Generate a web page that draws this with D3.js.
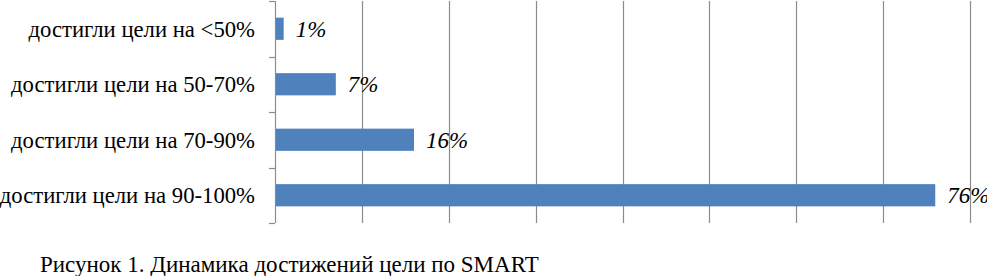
<!DOCTYPE html>
<html>
<head>
<meta charset="utf-8">
<script src="https://cdn.jsdelivr.net/npm/d3@7"></script>
<style>
  body { margin: 0; background: #fff; }
  svg { display: block; font-family: "Liberation Serif", "Times New Roman", serif; }
</style>
</head>
<body>
<svg id="chart" width="987" height="276"></svg>
<script>
var categories = [
  "достигли цели на <50%",
  "достигли цели на 50-70%",
  "достигли цели на 70-90%",
  "достигли цели на 90-100%"
];
var values = [1, 7, 16, 76];
var gridTicks = [0, 10, 20, 30, 40, 50, 60, 70, 80];
var caption = "Рисунок 1. Динамика достижений цели по SMART";

var svg = d3.select("#chart");
var plotLeft = 275, plotRight = 970, plotTop = 1, plotBottom = 223;

var x = d3.scaleLinear().domain([0, 80]).range([plotLeft, plotRight]);
var y = d3
  .scaleBand()
  .domain(categories)
  .range([plotTop, plotBottom])
  .paddingInner(0.6)
  .paddingOuter(0.3);

// vertical gridlines
svg
  .append("g")
  .attr("class", "grid")
  .selectAll("line")
  .data(gridTicks.slice(1))
  .enter()
  .append("line")
  .attr("x1", function(d) { return Math.round(x(d)) + 0.5; })
  .attr("x2", function(d) { return Math.round(x(d)) + 0.5; })
  .attr("y1", plotTop)
  .attr("y2", plotBottom)
  .attr("stroke", "#8c8c8c")
  .attr("stroke-width", 1.2);

// category axis with ticks between bands
var step = y.step();
var bounds = d3.range(categories.length + 1).map(function(i) {
  return plotTop + i * step;
});
var axis = svg.append("g").attr("class", "axis");
axis
  .append("line")
  .attr("x1", plotLeft + 0.5)
  .attr("x2", plotLeft + 0.5)
  .attr("y1", plotTop)
  .attr("y2", plotBottom)
  .attr("stroke", "#8c8c8c")
  .attr("stroke-width", 1.2);
axis
  .selectAll("line.tick")
  .data(bounds)
  .enter()
  .append("line")
  .attr("class", "tick")
  .attr("x1", plotLeft - 6)
  .attr("x2", plotLeft)
  .attr("y1", function(d) { return Math.round(d) + 0.5; })
  .attr("y2", function(d) { return Math.round(d) + 0.5; })
  .attr("stroke", "#8c8c8c")
  .attr("stroke-width", 1.2);

axis
  .selectAll("text")
  .data(categories)
  .enter()
  .append("text")
  .attr("x", plotLeft - 20)
  .attr("y", function(d) { return y(d) + y.bandwidth() / 2; })
  .attr("dy", "0.35em")
  .attr("text-anchor", "end")
  .attr("font-size", 22.7)
  .attr("fill", "#000")
  .text(function(d) { return d; });

// bars
var rows = categories.map(function(c, i) {
  return { cat: c, value: values[i] };
});
svg
  .append("g")
  .attr("class", "bars")
  .selectAll("rect")
  .data(rows)
  .enter()
  .append("rect")
  .attr("x", x(0) + 1)
  .attr("y", function(d) { return y(d.cat); })
  .attr("width", function(d) { return x(d.value) - x(0) - 1; })
  .attr("height", y.bandwidth())
  .attr("fill", "#4f81bd");

// value labels
svg
  .append("g")
  .attr("class", "labels")
  .selectAll("text")
  .data(rows)
  .enter()
  .append("text")
  .attr("x", function(d) { return x(d.value) + 12; })
  .attr("y", function(d) { return y(d.cat) + y.bandwidth() / 2; })
  .attr("dy", "0.35em")
  .attr("font-size", 23)
  .attr("font-style", "italic")
  .attr("fill", "#000")
  .text(function(d) { return d.value + "%"; });

svg
  .append("text")
  .attr("x", 40)
  .attr("y", 272)
  .attr("font-size", 23)
  .attr("fill", "#000")
  .text(caption);
</script>
</body>
</html>
